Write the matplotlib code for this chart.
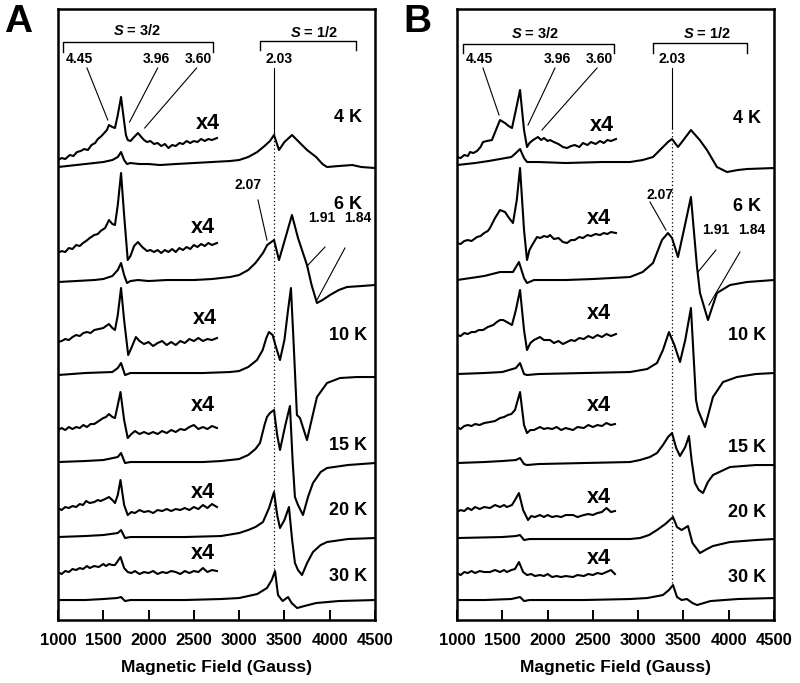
import matplotlib
matplotlib.use('Agg')
import matplotlib.pyplot as plt
import numpy as np

plt.rcParams['font.family'] = ['Liberation Sans', 'DejaVu Sans']
plt.rcParams['mathtext.fontset'] = 'custom'
plt.rcParams['mathtext.it'] = 'Liberation Sans:bold:italic'
plt.rcParams['mathtext.rm'] = 'Liberation Sans:bold'

temps = ['4 K', '6 K', '10 K', '15 K', '20 K', '30 K']
ticks = [1000, 1500, 2000, 2500, 3000, 3500, 4000, 4500]

# ---- panel A spectra: (field in gauss, signal) ----
a4_x4 = [(1000, 0), (1040, 2), (1080, 1), (1130, 5), (1170, 4), (1210, 8), (1250, 9), (1290, 11),
         (1330, 10), (1370, 15), (1410, 17), (1440, 21), (1480, 24), (1510, 27), (1540, 30), (1563, 35),
         (1600, 33), (1629, 32), (1660, 45), (1696, 63), (1725, 42), (1750, 25), (1770, 20), (1800, 19),
         (1840, 23), (1883, 27), (1920, 23), (1950, 20), (1983, 18), (2020, 19), (2060, 16), (2100, 17),
         (2140, 14), (2180, 16), (2220, 12), (2260, 15), (2300, 14), (2340, 17), (2380, 16), (2420, 19),
         (2460, 17), (2500, 19), (2540, 18), (2580, 21), (2620, 19), (2660, 21), (2700, 20), (2755, 22)]
a4 = [(1000, 0), (1100, 1), (1200, 2), (1300, 3), (1400, 4), (1500, 5), (1600, 7), (1660, 10), (1696, 15),
      (1730, 7), (1762, 3), (1800, 4), (1900, 3), (2000, 3), (2126, 2), (2300, 3), (2500, 4), (2700, 5),
      (2899, 6), (3000, 7), (3100, 10), (3200, 15), (3280, 21), (3340, 26), (3385, 32), (3440, 17),
      (3500, 25), (3584, 32), (3650, 26), (3750, 17), (3850, 10), (3920, 3), (3970, 0), (4100, 1),
      (4250, 2), (4350, 0), (4500, -1)]
a6_x4 = [(1000, 0), (1040, 2), (1080, 1), (1120, 5), (1160, 4), (1200, 8), (1240, 7), (1276, 10),
         (1310, 12), (1350, 15), (1400, 18), (1440, 19), (1470, 22), (1520, 25), (1563, 33), (1600, 29),
         (1629, 28), (1660, 48), (1696, 80), (1730, 38), (1770, -7), (1800, -3), (1840, 7), (1883, 11),
         (1930, 6), (1983, 2), (2020, 3), (2060, 1), (2100, 3), (2140, 0), (2180, 3), (2220, 1), (2260, 4),
         (2300, 1), (2340, 5), (2380, 3), (2420, 6), (2460, 4), (2500, 8), (2540, 6), (2580, 9), (2620, 7),
         (2660, 10), (2700, 8), (2755, 10)]
a6 = [(1000, 0), (1200, 1), (1400, 2), (1500, 3), (1600, 6), (1660, 12), (1696, 19), (1730, 7),
      (1762, -1), (1800, 1), (1883, 2), (2000, 1), (2200, 2), (2500, 2), (2700, 3), (2899, 5), (3000, 7),
      (3100, 12), (3180, 19), (3263, 29), (3310, 37), (3385, 42), (3440, 22), (3520, 47), (3583, 67),
      (3650, 44), (3749, 17), (3800, -3), (3859, -21), (3920, -18), (4003, -13), (4100, -8), (4190, -5),
      (4350, -4), (4500, -3)]
a10_x4 = [(1000, 0), (1040, 1), (1080, 3), (1120, 2), (1160, 5), (1200, 7), (1240, 6), (1280, 9),
          (1320, 10), (1360, 9), (1400, 12), (1450, 13), (1500, 14), (1530, 16), (1563, 18), (1600, 14),
          (1629, 12), (1660, 27), (1696, 54), (1730, 22), (1775, -13), (1810, -6), (1860, 5), (1900, 1),
          (1950, -2), (2000, 0), (2050, -4), (2100, -1), (2150, 1), (2200, -3), (2250, 0), (2300, -3),
          (2350, 1), (2400, -1), (2450, 3), (2500, 1), (2550, 4), (2600, 1), (2650, 3), (2700, 2), (2755, 4)]
a10 = [(1000, 0), (1300, 2), (1600, 3), (1660, 7), (1696, 12), (1740, 0), (1800, 2), (2200, 2), (2600, 2),
       (2899, 3), (3000, 4), (3100, 8), (3197, 15), (3260, 25), (3300, 37), (3329, 43), (3370, 40),
       (3400, 30), (3451, 15), (3500, 35), (3540, 65), (3572, 87), (3600, 35), (3638, -40), (3672, -43),
       (3749, -65), (3800, -45), (3859, -22), (3970, -8), (4113, -3), (4300, -2), (4500, -2)]
a15_x4 = [(1000, 0), (1040, 2), (1080, 0), (1120, 3), (1160, 1), (1200, 3), (1240, 2), (1280, 5),
          (1320, 3), (1360, 6), (1400, 6), (1450, 9), (1500, 12), (1530, 13), (1563, 16), (1600, 13),
          (1629, 12), (1660, 25), (1690, 38), (1730, 10), (1770, -8), (1810, -4), (1850, -1), (1900, -4),
          (1950, -2), (2000, -4), (2050, -2), (2100, -4), (2150, -1), (2200, -3), (2250, 0), (2300, -2),
          (2350, 1), (2400, 0), (2450, 3), (2500, 5), (2550, 1), (2600, 3), (2650, 1), (2700, 4), (2755, 2)]
a15 = [(1000, 0), (1300, 1), (1500, 2), (1660, 5), (1696, 9), (1740, -1), (1800, 0), (2200, 0), (2600, 0),
       (2800, 1), (2900, 2), (3000, 3), (3100, 7), (3180, 13), (3230, 19), (3280, 37), (3307, 45),
       (3340, 49), (3385, 52), (3420, 27), (3451, 12), (3510, 37), (3561, 56), (3590, 2), (3616, -35),
       (3650, -43), (3705, -53), (3760, -35), (3815, -21), (3900, -10), (3970, -6), (4200, -3), (4500, -1)]
a20_x4 = [(1000, 0), (1040, -2), (1080, 1), (1120, 0), (1160, 2), (1200, 1), (1240, 4), (1276, 3),
          (1310, 7), (1350, 5), (1400, 6), (1440, 8), (1470, 7), (1520, 9), (1563, 11), (1600, 8),
          (1629, 5), (1660, 13), (1690, 28), (1730, 3), (1770, -7), (1810, -4), (1850, -5), (1900, -2),
          (1950, -4), (2000, -3), (2050, -5), (2100, -2), (2150, -3), (2200, -1), (2250, -3), (2300, -1),
          (2350, -2), (2400, 0), (2450, -2), (2500, 1), (2550, -1), (2600, 3), (2650, 0), (2700, 4), (2755, 1)]
a20 = [(1000, 0), (1300, 1), (1500, 2), (1660, 4), (1696, 7), (1740, -1), (1800, 0), (2400, 0), (2800, 1),
       (3000, 4), (3100, 7), (3180, 10), (3263, 15), (3330, 29), (3385, 45), (3420, 22), (3451, 9),
       (3500, 17), (3550, 30), (3585, -3), (3616, -26), (3650, -33), (3694, -38), (3750, -26),
       (3815, -15), (3900, -8), (3970, -5), (4200, -2), (4500, -1)]
a30_x4 = [(1000, 0), (1040, -2), (1080, 1), (1120, 0), (1160, 3), (1200, 2), (1240, 4), (1276, 3),
          (1320, 6), (1350, 4), (1400, 6), (1450, 5), (1500, 8), (1530, 6), (1563, 8), (1600, 7),
          (1629, 7), (1660, 11), (1690, 15), (1730, 4), (1770, 0), (1810, -1), (1850, 1), (1900, -2),
          (1950, 0), (2000, -1), (2050, 1), (2100, -2), (2150, 0), (2200, -1), (2250, 1), (2300, 0),
          (2350, -2), (2400, 1), (2450, -1), (2500, 1), (2550, 0), (2600, 4), (2650, 0), (2700, 2), (2755, 1)]
a30 = [(1000, 0), (1300, 0), (1500, 1), (1650, 2), (1696, 3), (1740, -1), (1800, 0), (2400, 0), (2800, 1),
       (3000, 2), (3200, 6), (3307, 12), (3360, 20), (3396, 29), (3429, 5), (3480, -1), (3540, 3),
       (3580, -3), (3640, -8), (3720, -6), (3850, -3), (4100, -1), (4500, 0)]

# ---- panel B spectra ----
b4_x4 = [(1000, 0), (1040, -1), (1080, 2), (1120, 1), (1144, 5), (1180, 4), (1221, 6), (1260, 10),
         (1287, 15), (1330, 16), (1386, 17), (1430, 27), (1475, 37), (1530, 34), (1570, 31), (1607, 29),
         (1650, 47), (1696, 67), (1740, 27), (1773, 10), (1800, 14), (1840, 17), (1894, 20), (1930, 17),
         (1960, 19), (2000, 16), (2027, 17), (2070, 15), (2120, 13), (2170, 10), (2214, 9), (2260, 11),
         (2300, 12), (2350, 10), (2391, 14), (2440, 12), (2480, 15), (2530, 13), (2579, 16), (2620, 14),
         (2660, 17), (2700, 16), (2755, 18)]
b4 = [(1000, 0), (1200, 2), (1350, 4), (1475, 6), (1600, 8), (1650, 12), (1696, 16), (1740, 7), (1773, 3),
      (1900, 3), (2200, 2), (2600, 3), (2910, 3), (3050, 5), (3164, 8), (3274, 18), (3329, 23), (3374, 26),
      (3440, 18), (3500, 25), (3583, 35), (3680, 25), (3760, 15), (3870, -2), (3981, -7), (4100, -5),
      (4202, -4), (4500, -3)]
b6_x4 = [(1000, 0), (1040, -1), (1080, 2), (1120, 3), (1160, 2), (1221, 6), (1260, 7), (1300, 10),
         (1340, 12), (1364, 15), (1420, 25), (1475, 33), (1530, 31), (1575, 25), (1618, 20), (1660, 43),
         (1696, 75), (1740, 13), (1773, -17), (1800, -7), (1830, -2), (1883, 6), (1920, 5), (1960, 7),
         (2000, 6), (2027, 8), (2070, 4), (2120, 5), (2170, 1), (2214, 0), (2260, 3), (2300, 3), (2350, 6),
         (2391, 5), (2440, 8), (2480, 7), (2530, 9), (2579, 8), (2620, 10), (2660, 9), (2700, 11), (2755, 10)]
b6 = [(1000, 0), (1150, 2), (1300, 4), (1475, 8), (1618, 8), (1684, 18), (1740, 2), (1773, -3), (1850, 0),
      (2200, 0), (2500, 1), (2910, 3), (3050, 8), (3164, 17), (3263, 40), (3329, 47), (3374, 42),
      (3440, 23), (3510, 52), (3583, 83), (3650, 13), (3683, -13), (3771, -40), (3870, -13), (4014, -5),
      (4200, -2), (4500, 0)]
b10_x4 = [(1000, 0), (1040, -1), (1080, 2), (1120, 1), (1160, 3), (1200, 3), (1240, 5), (1287, 5),
          (1340, 8), (1400, 10), (1440, 13), (1475, 15), (1510, 15), (1550, 13), (1607, 10), (1650, 25),
          (1696, 45), (1740, 5), (1773, -15), (1810, -8), (1850, -5), (1916, -2), (1960, -5), (2027, -5),
          (2070, -8), (2120, -6), (2170, -9), (2214, -7), (2260, -5), (2300, -6), (2350, -3), (2400, -4),
          (2450, -1), (2500, -3), (2550, 0), (2600, -2), (2650, 1), (2700, -1), (2755, 1)]
b10 = [(1000, 0), (1300, 1), (1500, 2), (1650, 6), (1696, 11), (1740, 0), (1773, -1), (1900, 0), (2400, 1),
       (2910, 2), (3100, 5), (3208, 11), (3274, 24), (3340, 42), (3400, 29), (3462, 12), (3520, 34),
       (3583, 66), (3639, -26), (3661, -36), (3738, -53), (3826, -23), (3937, -8), (4091, -3), (4300, 0),
       (4500, 1)]
b15_x4 = [(1000, 0), (1040, -2), (1080, 1), (1120, 2), (1160, 1), (1200, 3), (1250, 2), (1300, 4),
          (1364, 5), (1420, 6), (1475, 9), (1520, 10), (1560, 12), (1600, 13), (1640, 17), (1696, 35),
          (1740, 2), (1773, -6), (1810, -3), (1850, -3), (1916, 0), (1960, -2), (2000, -1), (2050, -2),
          (2100, 0), (2150, -3), (2200, -1), (2281, -3), (2330, 0), (2400, -1), (2450, 2), (2500, 0),
          (2550, 2), (2600, 1), (2650, 4), (2700, 2), (2744, 3)]
b15 = [(1000, 0), (1300, 1), (1500, 2), (1650, 3), (1696, 5), (1740, -1), (1773, -2), (1900, -1),
       (2400, 0), (2910, 1), (3020, 3), (3130, 6), (3208, 10), (3274, 18), (3330, 26), (3374, 30),
       (3420, 15), (3462, 7), (3520, 16), (3561, 27), (3590, 3), (3627, -20), (3670, -27), (3716, -30),
       (3770, -19), (3826, -12), (4014, -4), (4300, -2), (4500, -2)]
b20_x4 = [(1000, 0), (1040, 2), (1080, 1), (1120, 4), (1160, 2), (1200, 5), (1250, 3), (1300, 5),
          (1364, 4), (1420, 7), (1475, 5), (1520, 7), (1550, 5), (1607, 7), (1640, 12), (1684, 19),
          (1730, 2), (1784, -8), (1820, -4), (1860, -5), (1916, -3), (1960, -5), (2000, -3), (2050, -5),
          (2100, -4), (2150, -5), (2200, -3), (2281, -3), (2330, -5), (2400, -3), (2450, -2), (2500, -3),
          (2550, -1), (2600, 0), (2650, 4), (2700, 0), (2744, 1)]
b20 = [(1000, 0), (1500, 1), (1650, 2), (1696, 3), (1740, -2), (1800, -1), (2400, -1), (2910, -1),
       (3020, 0), (3120, 3), (3208, 8), (3300, 14), (3385, 21), (3429, 11), (3480, 8), (3550, 12),
       (3600, -5), (3683, -15), (3760, -11), (3826, -8), (4014, -4), (4300, -2), (4500, -1)]
b30_x4 = [(1000, 0), (1040, -2), (1080, 1), (1120, 0), (1160, 2), (1200, 0), (1250, 2), (1300, 1),
          (1364, 1), (1420, 3), (1475, 1), (1520, 3), (1550, 1), (1600, 3), (1640, 4), (1684, 11),
          (1730, 1), (1773, -2), (1820, -1), (1860, -3), (1916, -2), (1960, -3), (2000, -1), (2050, -4),
          (2100, -3), (2150, -4), (2200, -3), (2281, -4), (2330, -2), (2400, -3), (2450, -1), (2500, -2),
          (2550, 0), (2600, -1), (2650, 1), (2700, 3), (2744, -1)]
b30 = [(1000, 0), (1300, 0), (1600, 1), (1696, 3), (1740, -1), (1800, 0), (2400, 0), (2910, 1), (3100, 2),
       (3274, 5), (3340, 10), (3385, 15), (3429, 3), (3480, 0), (3539, 1), (3600, -3), (3650, -5),
       (3800, -1), (4100, 1), (4500, 2)]

# stacking offsets (x4 trace, full trace) per temperature
offs_a = [(460, 453), (367, 338), (278, 245), (190, 158), (112, 83), (48, 20)]
offs_b = [(463, 455), (377, 340), (285, 246), (193, 157), (108, 82), (47, 20)]

fig = plt.figure(figsize=(8, 6.83), dpi=100)


def panel(left, traces, offs, tlab_y, x4_pos, ann, letter):
    ax = fig.add_axes([left, 0.0922, 0.39625, 0.8946])
    for (x4, full), (o1, o2) in zip(traces, offs):
        d = np.array(x4)
        ax.plot(d[:, 0], d[:, 1] + o1, color='black', lw=1.5, solid_joinstyle='round')
        d = np.array(full)
        ax.plot(d[:, 0], d[:, 1] + o2, color='black', lw=1.5, solid_joinstyle='round')
    for t, y, (xx, yx) in zip(temps, tlab_y, x4_pos):
        ax.text(4200, y, t, ha='center', va='center', fontsize=13, fontweight='bold')
        ax.text(xx, yx, 'x4', ha='center', va='center', fontsize=15.5, fontweight='bold')
    # brackets
    for (x0, x1, top, low, tx, ty, lab) in ann['brackets']:
        ax.plot([x0, x0, x1, x1], [low, top, top, low], color='black', lw=1.0)
        ax.text(tx, ty, lab, ha='center', va='center', fontsize=10.5, fontweight='bold')
    for (tx, ty, lab) in ann['labels']:
        ax.text(tx, ty, lab, ha='center', va='center', fontsize=10, fontweight='bold')
    for (x0, y0, x1, y1) in ann['lines']:
        ax.plot([x0, x1], [y0, y1], color='black', lw=0.8)
    gx, gy0, gy1 = ann['dotted']
    ax.plot([gx, gx], [gy0, gy1], color='black', lw=0.9, ls=(0, (1, 2)))
    ax.set_xlim(1000, 4500)
    ax.set_ylim(0, 611)
    ax.set_yticks([])
    ax.set_xticks(ticks)
    ax.set_xticklabels([str(t) for t in ticks], fontweight='bold', fontsize=12)
    ax.tick_params(axis='x', direction='in', length=7, width=1.4, pad=9)
    for s in ax.spines.values():
        s.set_linewidth(1.8)
    ax.set_xlabel('Magnetic Field (Gauss)', fontsize=12.5, fontweight='bold', labelpad=9)
    fig.text(left - 0.05, 0.968, letter, ha='center', va='center', fontsize=28, fontweight='bold')
    return ax


ann_a = {
    'brackets': [(1055, 2716, 578, 568, 1870, 590, '$S$ = 3/2'),
                 (3233, 4290, 579, 570, 3830, 588, '$S$ = 1/2')],
    'labels': [(1240, 561, '4.45'), (2090, 561, '3.96'), (2550, 561, '3.60'), (3440, 561, '2.03'),
               (3098, 435, '2.07'), (3915, 402, '1.91'), (4312, 402, '1.84')],
    'lines': [(1320, 552, 1550, 500), (2100, 552, 1790, 498), (2530, 552, 1957, 492),
              (3385, 552, 3385, 487), (3208, 420, 3307, 380), (3948, 373, 3760, 355),
              (4168, 372, 3859, 320)],
    'dotted': (3385, 487, 49),
}
ann_b = {
    'brackets': [(1066, 2733, 576, 567, 1861, 587, '$S$ = 3/2'),
                 (3164, 4202, 577, 567, 3760, 587, '$S$ = 1/2')],
    'labels': [(1243, 561, '4.45'), (2104, 561, '3.96'), (2568, 561, '3.60'), (3374, 561, '2.03'),
               (3241, 425, '2.07'), (3859, 390, '1.91'), (4257, 390, '1.84')],
    'lines': [(1287, 552, 1464, 505), (2082, 552, 1784, 495), (2546, 552, 1938, 490),
              (3374, 552, 3374, 492), (3131, 418, 3307, 390), (3859, 370, 3661, 348),
              (4124, 368, 3782, 315)],
    'dotted': (3374, 492, 35),
}

traces_a = [(a4_x4, a4), (a6_x4, a6), (a10_x4, a10), (a15_x4, a15), (a20_x4, a20), (a30_x4, a30)]
traces_b = [(b4_x4, b4), (b6_x4, b6), (b10_x4, b10), (b15_x4, b15), (b20_x4, b20), (b30_x4, b30)]

panel(0.0725, traces_a, offs_a, [503, 416, 285, 175, 110, 44],
      [(2656, 497), (2601, 393), (2623, 302), (2601, 215), (2601, 128), (2601, 67)], ann_a, 'A')
panel(0.57125, traces_b, offs_b, [502, 414, 285, 173, 108, 43],
      [(2601, 495), (2568, 402), (2568, 307), (2568, 215), (2568, 123), (2568, 62)], ann_b, 'B')

fig.savefig('out.png', dpi=100)
